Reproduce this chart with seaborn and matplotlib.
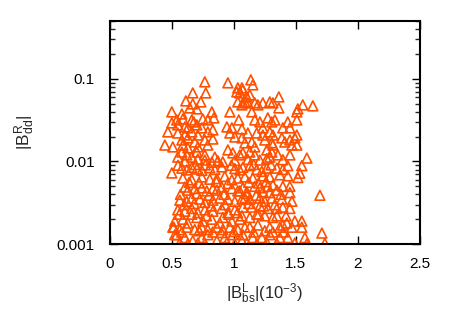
import matplotlib
matplotlib.use("Agg")
import matplotlib.pyplot as plt
import matplotlib.ticker as mticker
import seaborn as sns
import pandas as pd

# |B^L_bs| in units of 1e-3 and |B^R_dd| for points with |B^R_dd| > ~0.01
x_upper = [0.766, 0.952, 1.032, 1.024, 1.048, 1.073, 0.774, 0.669, 0.613, 0.734,
           0.669, 0.645, 0.702, 1.032, 1.073, 0.5, 0.581, 0.823, 0.968, 0.540,
           0.589, 0.661, 0.677, 0.75, 0.79, 0.839, 1.04, 0.5, 0.548, 0.605,
           0.629, 0.702, 0.742, 0.79, 0.831, 0.944, 0.984, 1.065, 0.468, 0.548,
           0.605, 0.661, 0.71, 0.581, 0.629, 0.685, 0.766, 0.831, 0.968, 1.008,
           1.065, 0.444, 0.508, 0.589, 0.629, 0.71, 0.79, 0.581, 0.621, 0.702,
           0.766, 0.847, 0.952, 0.992, 1.048, 0.548, 0.661, 0.71,
           1.137, 1.153, 1.065, 1.105, 1.129, 1.089, 1.113, 1.065, 1.169, 1.194,
           1.234, 1.29, 1.315, 1.363, 1.145, 1.363, 1.556, 1.637, 1.508, 1.516,
           1.169, 1.21, 1.274, 1.306, 1.331, 1.234, 1.435, 1.508, 1.113, 1.185,
           1.234, 1.29, 1.315, 1.395, 1.452, 1.508, 1.492, 1.089, 1.145, 1.169,
           1.25, 1.306, 1.387, 1.411, 1.452, 1.468, 1.508, 1.073, 1.129, 1.169,
           1.266, 1.306, 1.315, 1.29, 1.355, 1.452, 1.589]
y_upper = [0.092, 0.0895, 0.0778, 0.0695, 0.0676, 0.0735, 0.0676, 0.0676, 0.0541, 0.0526,
           0.0498, 0.0445, 0.0433, 0.0526, 0.0512, 0.0398, 0.0376, 0.0398, 0.0398, 0.0318,
           0.0327, 0.0318, 0.0301, 0.0327, 0.0318, 0.0337, 0.0318, 0.0293, 0.0277, 0.0262,
           0.0255, 0.0277, 0.0255, 0.0228, 0.0241, 0.0262, 0.0255, 0.0248, 0.0228, 0.0221,
           0.0209, 0.0228, 0.0209, 0.0182, 0.0193, 0.0172, 0.0182, 0.0187, 0.0221, 0.0198,
           0.0193, 0.0158, 0.015, 0.0158, 0.0146, 0.015, 0.0158, 0.013, 0.012, 0.013,
           0.012, 0.0113, 0.0138, 0.0127, 0.012, 0.0113, 0.0113, 0.0107,
           0.0973, 0.0846, 0.0778, 0.0605, 0.064, 0.0526, 0.0512, 0.0484, 0.0512, 0.0484,
           0.0512, 0.0526, 0.0512, 0.0605, 0.0398, 0.0445, 0.0484, 0.0471, 0.0398, 0.0433,
           0.0318, 0.0301, 0.0337, 0.0301, 0.0318, 0.0255, 0.0301, 0.0318, 0.0221, 0.0221,
           0.0209, 0.0228, 0.0209, 0.0255, 0.0255, 0.0209, 0.0193, 0.0168, 0.0172, 0.015,
           0.0182, 0.0168, 0.0193, 0.0172, 0.0182, 0.0158, 0.0158, 0.0127, 0.013, 0.012,
           0.0138, 0.013, 0.0158, 0.0113, 0.012, 0.012, 0.011]

# points with |B^R_dd| below ~0.01
x_lower = [0.605, 0.766, 0.823, 0.871, 0.911, 1.008,
           0.581, 0.621, 0.661, 0.702, 0.742, 0.806, 0.847, 0.903, 1.008, 1.048,
           0.589, 0.661, 0.742, 0.806, 0.863, 0.927, 0.984, 1.032,
           0.605, 0.629, 0.685, 0.742, 0.782, 0.831, 0.863, 0.903, 0.984, 1.032, 1.073,
           0.565, 0.621, 0.661, 0.726, 0.766, 0.831, 0.887, 0.952, 1.008, 1.065,
           0.548, 0.605, 0.661, 0.710, 0.766, 0.831, 0.903, 0.952, 1.008,
           0.524, 0.589, 0.629, 0.702, 0.75, 0.823, 0.887, 0.911, 0.984, 1.048,
           0.508, 0.565, 0.621, 0.685, 0.742, 0.79, 0.863, 0.911, 0.968, 1.032,
           0.54, 0.605, 0.669, 0.742, 0.79, 0.863, 0.927, 0.992, 1.065,
           0.565, 0.629, 0.71, 0.766, 0.944, 1.008,
           1.113, 1.21, 1.266, 1.395,
           1.073, 1.129, 1.185, 1.226, 1.266, 1.347, 1.395, 1.435, 1.548, 1.532,
           1.089, 1.153, 1.234, 1.29, 1.371, 1.435, 1.516,
           1.169, 1.21, 1.274, 1.315, 1.395, 1.452, 1.694,
           1.048, 1.105, 1.234, 1.29, 1.347, 1.452,
           1.089, 1.129, 1.21, 1.25, 1.306, 1.387, 1.468,
           1.073, 1.145, 1.21, 1.274, 1.347, 1.395, 1.452,
           1.065, 1.129, 1.185, 1.25, 1.315, 1.347, 1.492, 1.548, 1.427,
           1.089, 1.129, 1.194, 1.29, 1.371, 1.395, 1.468, 1.548, 1.71,
           1.073, 1.153, 1.226, 1.29, 1.315, 1.371, 1.435, 1.573,
           1.105, 1.185, 1.266, 1.347, 1.492, 1.589, 1.734,
           0.5, 0.516, 0.524,
           0.64, 0.72, 0.86, 0.95, 1.12, 1.2, 1.26,
           0.57, 0.7, 0.8, 0.92, 1.1, 1.18, 1.38,
           0.6, 0.68, 0.82, 0.93, 1.12, 1.24, 1.33,
           0.56, 0.66, 0.78, 0.96, 1.03, 1.2, 1.42,
           0.58, 0.72, 0.83, 0.9, 1.0, 1.16, 1.25, 1.4,
           0.55, 0.69, 0.77, 0.98, 1.16, 1.3]
y_lower = [0.0101, 0.0104, 0.0098, 0.0102, 0.0099, 0.0103,
           0.0083, 0.0079, 0.0085, 0.0081, 0.0078, 0.0084, 0.0080, 0.0086, 0.0082, 0.0079,
           0.0063, 0.0060, 0.0065, 0.0061, 0.0062, 0.0066, 0.0060, 0.0063,
           0.0049, 0.0045, 0.0047, 0.0048, 0.0044, 0.0047, 0.0045, 0.0049, 0.0047, 0.0044, 0.0048,
           0.0034, 0.0033, 0.0036, 0.0035, 0.0032, 0.0034, 0.0036, 0.0035, 0.0033, 0.0035,
           0.0026, 0.0025, 0.0027, 0.0024, 0.0026, 0.0025, 0.0027, 0.0024, 0.0026,
           0.0019, 0.0020, 0.0018, 0.0021, 0.0019, 0.0020, 0.0018, 0.0021, 0.0019, 0.0020,
           0.0016, 0.0015, 0.0016, 0.0015, 0.0016, 0.0015, 0.0016, 0.0015, 0.0016, 0.0015,
           0.0013, 0.0012, 0.0011, 0.0012, 0.0013, 0.0011, 0.0012, 0.0013, 0.0011,
           0.00104, 0.00101, 0.00103, 0.00102, 0.00104, 0.00101,
           0.0106, 0.0104, 0.0108, 0.0105,
           0.0085, 0.0089, 0.0080, 0.0076, 0.0083, 0.0083, 0.0080, 0.0089, 0.0089, 0.0072,
           0.0065, 0.0063, 0.0067, 0.0065, 0.0069, 0.0067, 0.0064,
           0.0050, 0.0048, 0.0050, 0.0052, 0.0050, 0.0050, 0.0039,
           0.0044, 0.0043, 0.0043, 0.0042, 0.0045, 0.0042,
           0.0036, 0.0035, 0.0036, 0.0033, 0.0036, 0.0035, 0.0033,
           0.0028, 0.0028, 0.0029, 0.0027, 0.0027, 0.0028, 0.0027,
           0.0022, 0.0021, 0.0023, 0.0022, 0.0021, 0.0022, 0.0019, 0.0019, 0.0018,
           0.0016, 0.0016, 0.0017, 0.0016, 0.0016, 0.0017, 0.0016, 0.0016, 0.00136,
           0.0013, 0.0012, 0.0012, 0.0013, 0.0014, 0.0012, 0.0012, 0.0012,
           0.00103, 0.00101, 0.00104, 0.00102, 0.00103, 0.00101, 0.00102,
           0.00726, 0.0016, 0.0013,
           0.0056, 0.0055, 0.0057, 0.0054, 0.0056, 0.0055, 0.0057,
           0.0040, 0.0041, 0.0039, 0.0040, 0.0041, 0.0039, 0.0040,
           0.0030, 0.0031, 0.0029, 0.0030, 0.0031, 0.0029, 0.0030,
           0.0023, 0.0023, 0.0022, 0.0023, 0.0024, 0.0023, 0.0022,
           0.0014, 0.00145, 0.0014, 0.00138, 0.00142, 0.0014, 0.00145, 0.0014,
           0.0090, 0.0092, 0.0091, 0.0090, 0.0092, 0.0091]

x_ticks = [0, 0.5, 1, 1.5, 2, 2.5]
x_tick_labels = ["0", "0.5", "1", "1.5", "2", "2.5"]
y_ticks = [0.001, 0.01, 0.1]
y_tick_labels = ["0.001", "0.01", "0.1"]

df = pd.DataFrame({"x": x_upper + x_lower, "y": y_upper + y_lower})

sns.set_style("ticks")
plt.rcParams["font.family"] = ["Liberation Sans", "DejaVu Sans"]
plt.rcParams["mathtext.fontset"] = "custom"
plt.rcParams["mathtext.rm"] = "Liberation Sans"

fig = plt.figure(figsize=(4.5, 3.15), dpi=100)
ax = fig.add_axes([0.244, 0.225, 0.689, 0.708])

sns.scatterplot(data=df, x="x", y="y", ax=ax, marker="^", s=50,
                facecolor="none", edgecolor="#ff5000", linewidth=1.2, legend=False)

ax.set_yscale("log")
ax.set_xlim(0, 2.5)
ax.set_ylim(0.001, 0.5)
ax.set_xticks(x_ticks)
ax.set_xticklabels(x_tick_labels)
ax.set_yticks(y_ticks)
ax.set_yticklabels(y_tick_labels)
ax.yaxis.set_minor_locator(mticker.LogLocator(base=10, subs=range(2, 10)))
ax.yaxis.set_minor_formatter(mticker.NullFormatter())

ax.tick_params(axis="both", which="major", direction="in", length=6, width=1,
               top=True, right=True, labelsize=11, colors="black")
ax.tick_params(axis="x", which="major", pad=9)
ax.tick_params(axis="y", which="major", pad=11)
ax.tick_params(axis="y", which="minor", direction="in", length=3.5, width=1,
               left=True, right=True)
for sp in ax.spines.values():
    sp.set_linewidth(1.5)
    sp.set_color("black")

ax.set_xlabel(r"$\mathregular{|B^{L}_{bs}|(10^{-3})}$", fontsize=12, labelpad=8)
ax.set_ylabel(r"$\mathregular{|B^{R}_{dd}|}$", fontsize=12.5, labelpad=14)

fig.savefig("out.png", dpi=100)
